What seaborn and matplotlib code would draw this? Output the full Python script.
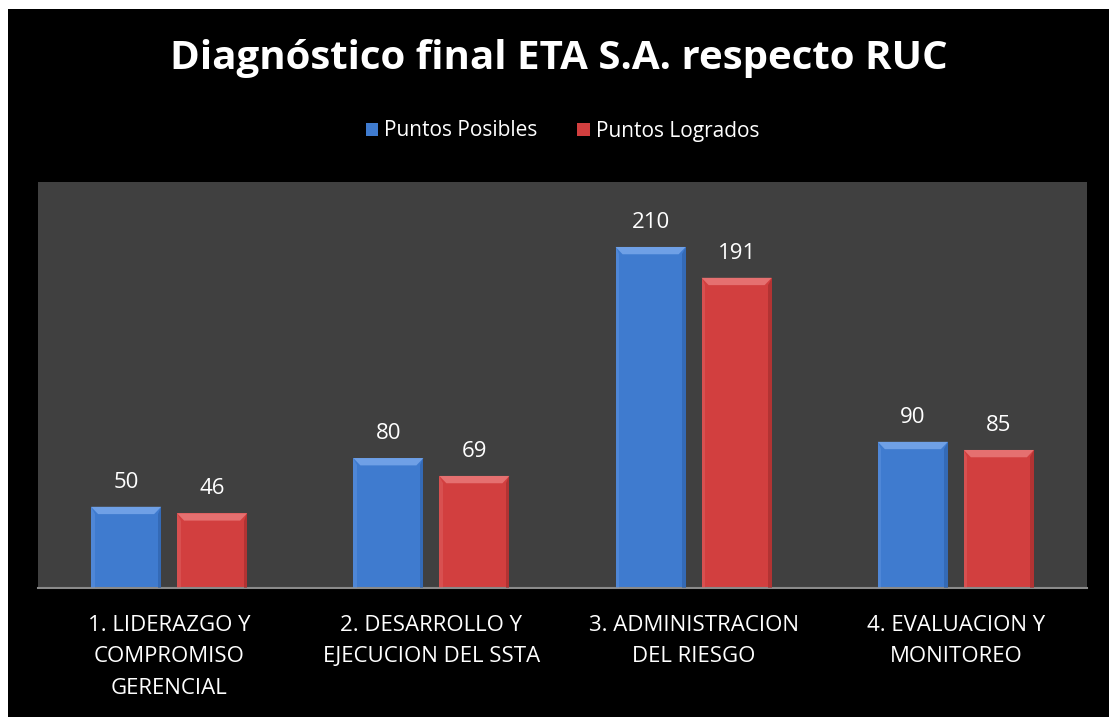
import matplotlib
matplotlib.use("Agg")
import matplotlib.pyplot as plt
import seaborn as sns
import pandas as pd
from matplotlib.patches import Rectangle, Polygon

categories = ["1. LIDERAZGO Y\nCOMPROMISO\nGERENCIAL",
              "2. DESARROLLO Y\nEJECUCION DEL SSTA",
              "3. ADMINISTRACION\nDEL RIESGO",
              "4. EVALUACION Y\nMONITOREO"]
puntos_posibles = [50, 80, 210, 90]
puntos_logrados = [46, 69, 191, 85]
series = ["Puntos Posibles", "Puntos Logrados"]
title = "Diagnóstico final ETA S.A. respecto RUC"

df = pd.DataFrame({
    "cat": categories * 2,
    "val": puntos_posibles + puntos_logrados,
    "serie": [series[0]] * 4 + [series[1]] * 4,
})

sns.set_theme(style="dark")
plt.rcParams['font.family'] = ['Open Sans', 'DejaVu Sans']

W, H = 1109, 717
fig = plt.figure(figsize=(W / 100, H / 100), dpi=100, facecolor="white")
# black chart frame (white margin on top/left)
fig.patches.append(Rectangle((8 / W, 0), 1 - 8 / W, 1 - 9 / H,
                             transform=fig.transFigure, facecolor="black",
                             edgecolor="none", zorder=-10))

ax = fig.add_axes([38 / W, 1 - 588 / H, (1087 - 38) / W, (588 - 182) / H])
ax.set_facecolor("#404040")

palette = {series[0]: "#3f7bcf", series[1]: "#d23f3f"}
sns.barplot(data=df, x="cat", y="val", hue="serie", palette=palette,
            width=0.656, gap=0.186, ax=ax, saturation=1, legend=True,
            edgecolor="none")

ax.set_ylim(0, 250)
ax.set_xlim(-0.5, 3.5)
ax.set_yticks([])
ax.set_xlabel("")
ax.set_ylabel("")
ax.grid(False)
for s in ["top", "right", "left"]:
    ax.spines[s].set_visible(False)
ax.spines["bottom"].set_color("#8a8a8a")
ax.spines["bottom"].set_linewidth(1.5)
ax.tick_params(axis="x", colors="white", labelsize=16, length=0, pad=19.5)
for lab in ax.get_xticklabels():
    lab.set_linespacing(1.65)
    lab.set_color("white")

# bevel highlight on bar tops
edge_cols = {series[0]: ("#6fa0e6", "#2d5fa6"), series[1]: ("#e57070", "#9e2b2b")}
for cont, s in zip(ax.containers, series):
    hi, lo = edge_cols[s]
    for p in cont.patches:
        x0, y0 = p.get_x(), p.get_y()
        w, h = p.get_width(), p.get_height()
        bx = w * 0.1
        by = 4.5
        ax.add_patch(Polygon([(x0, y0 + h), (x0 + w, y0 + h), (x0 + w - bx, y0 + h - by),
                              (x0 + bx, y0 + h - by)], closed=True,
                             facecolor=hi, edgecolor="none", zorder=3))
        ax.add_patch(Polygon([(x0 + w, y0 + h), (x0 + w, y0), (x0 + w - bx * 0.5, y0),
                              (x0 + w - bx * 0.5, y0 + h - by)], closed=True,
                             facecolor=lo, edgecolor="none", zorder=3, alpha=0.6))
        ax.add_patch(Polygon([(x0, y0 + h), (x0, y0), (x0 + bx * 0.5, y0),
                              (x0 + bx * 0.5, y0 + h - by)], closed=True,
                             facecolor=hi, edgecolor="none", zorder=3, alpha=0.35))
    ax.bar_label(cont, padding=10, color="white", fontsize=16)

leg = ax.get_legend()
handles, labels = ax.get_legend_handles_labels()
leg.remove()
fig.legend(handles, labels, loc="center", bbox_to_anchor=(0.5 + 8 / W, 1 - 131 / H),
           ncol=2, frameon=False, fontsize=15, labelcolor="white",
           handlelength=0.6, handleheight=0.6, handletextpad=0.3,
           columnspacing=1.9)

fig.text(0.5 + 4 / W, 1 - 59 / H, title, ha="center", va="center",
         color="white", fontsize=29, fontweight="bold")

fig.savefig("out.png", dpi=100, facecolor=fig.get_facecolor())
